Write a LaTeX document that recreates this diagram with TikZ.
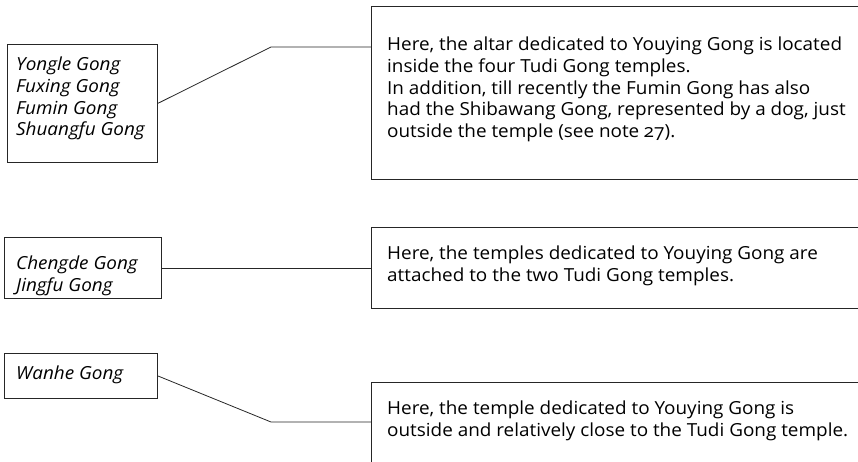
\documentclass[tikz,border=0pt]{standalone}
\usepackage{fontspec}
\setmainfont{Open Sans}[Numbers=OldStyle,FakeStretch=1.05]
\begin{document}
\begin{tikzpicture}[x=1pt,y=-1pt,
  box/.style={draw=black!85,line width=0.8pt,rectangle,inner sep=0pt,anchor=north west},
  link/.style={draw=black!85,line width=0.8pt},
  txt/.style={anchor=base west,inner sep=0pt,align=left,font=\fontsize{18}{21.7}\selectfont},
  itxt/.style={txt,font=\fontsize{18}{21.9}\selectfont\itshape}]
\useasboundingbox (0,0) rectangle (858,462);
% left boxes
\node[box,minimum width=150pt,minimum height=118pt] (l1) at (7,44) {};
\node[box,minimum width=157pt,minimum height=61pt] (l2) at (4,237) {};
\node[box,minimum width=153pt,minimum height=45pt] (l3) at (4,353) {};
% right boxes (open to the right / bottom)
\node[box,minimum width=540pt,minimum height=173pt] (r1) at (371,6) {};
\node[box,minimum width=540pt,minimum height=81pt] (r2) at (371,227) {};
\node[box,minimum width=540pt,minimum height=120pt] (r3) at (371,382) {};
% texts (anchored at the baseline of their last line)
\node[itxt] (t1) at (16,136) {Yongle Gong\\Fuxing Gong\\Fumin Gong\\Shuangfu Gong};
\node[itxt] (t2) at (16,291) {Chengde Gong\\Jingfu Gong};
\node[itxt] (t3) at (16,379) {Wanhe Gong};
\node[txt] (u1) at (387,137.5) {Here, the altar dedicated to Youying Gong is located\\inside the four Tudi Gong temples.\\In addition, till recently the Fumin Gong has also\\had the Shibawang Gong, represented by a dog, just\\outside the temple (see note 27).};
\node[txt] (u2) at (387,281.5) {Here, the temples dedicated to Youying Gong are\\attached to the two Tudi Gong temples.};
\node[txt] (u3) at (387,436.5) {Here, the temple dedicated to Youying Gong is\\outside and relatively close to the Tudi Gong temple.};
% connectors
\coordinate (k1) at (271,47);
\coordinate (k3) at (271,422);
\draw[link] (l1.east) -- (k1) -- (k1 -| r1.west);
\draw[link] (l2.east) -- (r2.west);
\draw[link] (l3.east) -- (k3) -- (k3 -| r3.west);
\end{tikzpicture}
\end{document}
